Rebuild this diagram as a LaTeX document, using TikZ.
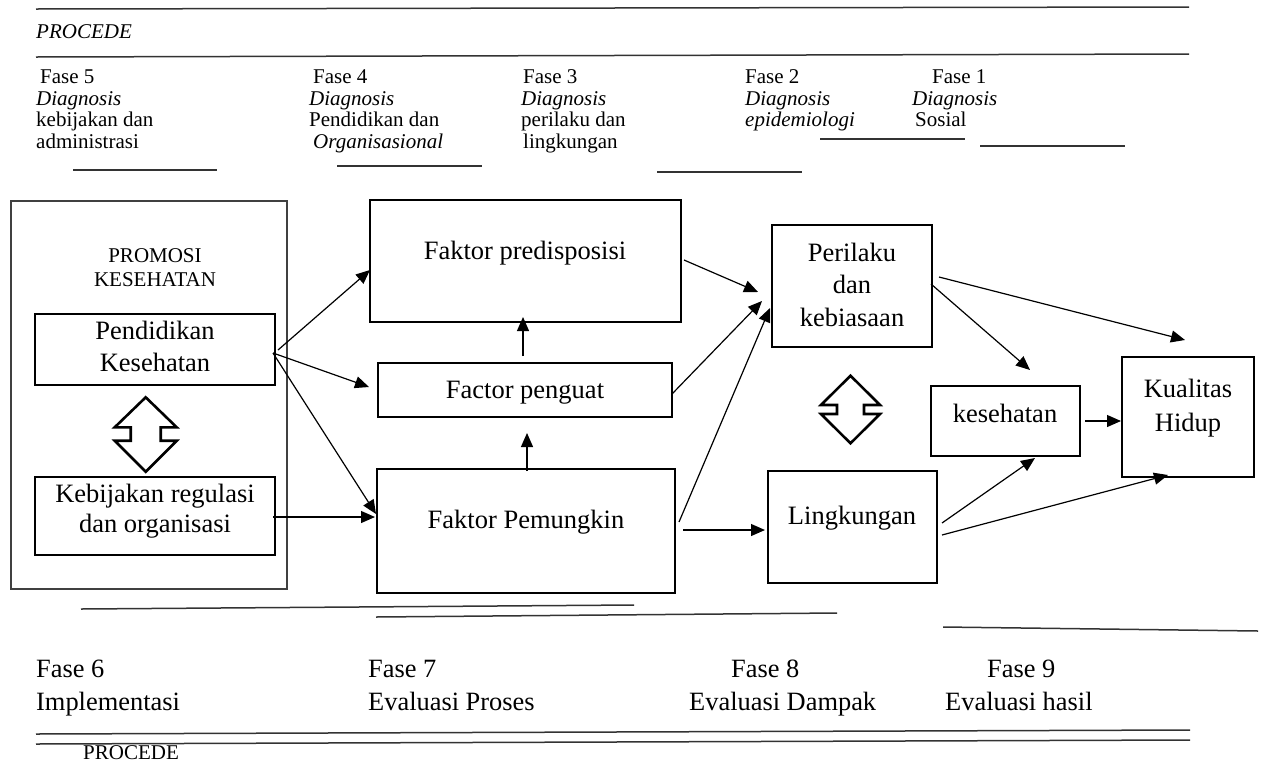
\documentclass[tikz,border=0pt]{standalone}
\usepackage{fontspec}
\setmainfont{Liberation Serif}
\usetikzlibrary{arrows.meta,calc}
\begin{document}
\begin{tikzpicture}[x=1pt,y=-1pt,
  sm/.style={font=\fontsize{21}{24}\selectfont, inner sep=0pt, anchor=base west},
  smc/.style={font=\fontsize{21}{24}\selectfont, inner sep=0pt, anchor=base},
  bigl/.style={font=\fontsize{26.4}{32}\selectfont, inner sep=0pt, anchor=base west},
  big/.style={font=\fontsize{26.5}{32}\selectfont, inner sep=0pt, anchor=base},
  box/.style={draw, line width=2.8pt, outer sep=0pt, inner sep=0pt},
  outerbox/.style={draw=black!75, line width=1.5pt, outer sep=0pt, inner sep=0pt},
  arr/.style={-{Triangle[length=14pt,width=12pt]}, line width=1.2pt},
  rule/.style={line width=1.5pt, draw=black!80},
  dbl/.style={line width=2.6pt, line join=miter}
]
\useasboundingbox (0,0) rectangle (1277,764);

% ---- top rules and header ----
\draw[rule] (36,9) -- (1189,7);
\node[sm, font=\fontsize{21}{24}\selectfont\itshape] (proc1) at (36,38) {PROCEDE};
\draw[rule] (36,57) -- (1189,54);

% Fase 5
\node[sm] (f5a) at (40,83) {Fase 5};
\node[sm, font=\fontsize{21}{24}\selectfont\itshape] (f5b) at (36,105) {Diagnosis};
\node[sm] (f5c) at (36,126) {kebijakan dan};
\node[sm] (f5d) at (36,148) {administrasi};
% Fase 4
\node[sm] (f4a) at (313,83) {Fase 4};
\node[sm, font=\fontsize{21}{24}\selectfont\itshape] (f4b) at (309,105) {Diagnosis};
\node[sm] (f4c) at (309,126) {Pendidikan dan};
\node[sm, font=\fontsize{21}{24}\selectfont\itshape] (f4d) at (313,148) {Organisasional};
% Fase 3
\node[sm] (f3a) at (523,83) {Fase 3};
\node[sm, font=\fontsize{21}{24}\selectfont\itshape] (f3b) at (521,105) {Diagnosis};
\node[sm] (f3c) at (521,126) {perilaku dan};
\node[sm] (f3d) at (523,148) {lingkungan};
% Fase 2
\node[sm] (f2a) at (745,83) {Fase 2};
\node[sm, font=\fontsize{21}{24}\selectfont\itshape] (f2b) at (745,105) {Diagnosis};
\node[sm, font=\fontsize{21}{24}\selectfont\itshape] (f2c) at (745,126) {epidemiologi};
% Fase 1
\node[sm] (f1a) at (932,83) {Fase 1};
\node[sm, font=\fontsize{21}{24}\selectfont\itshape] (f1b) at (912,105) {Diagnosis};
\node[sm] (f1c) at (915,126) {Sosial};

% short underlines
\draw[rule] (73,170) -- (217,170);
\draw[rule] (337,166) -- (482,166);
\draw[rule] (657,172) -- (802,172);
\draw[rule] (820,139) -- (965,139);
\draw[rule] (980,146) -- (1125,146);

% ---- boxes ----
\node[outerbox, minimum width=276pt, minimum height=388pt] (promo) at (149,395) {};
\node[smc] (promt1) at (155,262) {PROMOSI};
\node[smc] (promt2) at (155,286) {KESEHATAN};

\node[box, minimum width=240pt, minimum height=71pt] (pend) at (155,349.5) {};
\node[big] at (155,339) {Pendidikan};
\node[big] at (155,371) {Kesehatan};

\node[box, minimum width=240pt, minimum height=78pt] (kebi) at (155,516) {};
\node[big] at (155,502) {Kebijakan regulasi};
\node[big] at (155,532) {dan organisasi};

\node[box, minimum width=311pt, minimum height=122pt] (pred) at (525.5,261) {};
\node[big] at (525,259) {Faktor predisposisi};

\node[box, minimum width=294pt, minimum height=54pt] (peng) at (525,390) {};
\node[big] at (525,398) {Factor penguat};

\node[box, minimum width=298pt, minimum height=124pt] (pemu) at (526,531) {};
\node[big] at (526,528) {Faktor Pemungkin};

\node[box, minimum width=160pt, minimum height=122pt] (peri) at (852,286) {};
\node[big] at (852,261) {Perilaku};
\node[big] at (852,293) {dan};
\node[big] at (852,326) {kebiasaan};

\node[box, minimum width=169pt, minimum height=112pt] (ling) at (852.5,527) {};
\node[big] at (852,524) {Lingkungan};

\node[box, minimum width=149pt, minimum height=70pt] (kese) at (1005.5,421) {};
\node[big] at (1005,422) {kesehatan};

\node[box, minimum width=132pt, minimum height=120pt] (kual) at (1188,417) {};
\node[big] at (1188,397) {Kualitas};
\node[big] at (1188,431) {Hidup};

% ---- double arrows ----
\draw[dbl] (145.7,397.3) -- (176.7,427.3) -- (160.7,427.3) -- (160.7,440.7) -- (176.7,440.7)
  -- (145.7,471.7) -- (114.7,440.7) -- (130.7,440.7) -- (130.7,427.3) -- (114.7,427.3) -- cycle;
\draw[dbl] (850.5,375.7) -- (880,405) -- (864,405) -- (864,414) -- (880,414)
  -- (850.5,443.3) -- (821,414) -- (837,414) -- (837,405) -- (821,405) -- cycle;

% ---- connectors ----
\draw[arr] ($(pend.east)+(3,0.5)$) -- ($(pred.west)+(0,9)$);
\draw[arr] ($(pend.east)+(-2,3.5)$) -- ($(peng.west)+(-9,-3)$);
\draw[arr] ($(pend.east)+(-2,3.5)$) -- ($(pemu.west)+(-1,-17)$);
\draw[arr] ($(kebi.east)+(-2,1)$) -- ($(pemu.west)+(-2,-14)$);
\draw[arr] ($(peng.north)+(-2,-7)$) -- ($(pred.south)+(-2.5,-5)$);
\draw[arr] ($(pemu.north)+(1,2)$) -- ($(peng.south)+(2,16)$);
\draw[arr] ($(pred.east)+(3,-1)$) -- ($(peri.west)+(-14,6)$);
\draw[arr] ($(peng.east)+(0,4)$) -- ($(peri.west)+(-10,15)$);
\draw[arr] ($(pemu.east)+(4,-9)$) -- ($(peri.west)+(-2,22)$);
\draw[arr] ($(pemu.east)+(8,-1)$) -- ($(ling.west)+(-3,3)$);
\draw[arr] ($(peri.east)+(-1,-2)$) -- ($(kese.north)+(24.5,-16)$);
\draw[arr] ($(peri.east)+(7,-9)$) -- ($(kual.north)+(-3,-17)$);
\draw[arr] ($(kese.east)+(5,0)$) -- ($(kual.west)+(-1,4)$);
\draw[arr] ($(ling.east)+(5,-4)$) -- ($(kese.south)+(29.5,2)$);
\draw[arr] ($(ling.east)+(5,8)$) -- ($(kual.south)+(-20,-2)$);

% ---- bottom rules ----
\draw[rule] (81,609) -- (634,605);
\draw[rule] (376,617) -- (837,613);
\draw[rule] (943,627) -- (1258,631);

% ---- bottom text ----
\node[bigl] (f6a) at (36,677) {Fase 6};
\node[bigl] (f6b) at (36,710) {Implementasi};
\node[bigl] (f7a) at (368,677) {Fase 7};
\node[bigl] (f7b) at (368,710) {Evaluasi Proses};
\node[bigl] (f8a) at (731,677) {Fase 8};
\node[bigl] (f8b) at (689,710) {Evaluasi Dampak};
\node[bigl] (f9a) at (987,677) {Fase 9};
\node[bigl] (f9b) at (945,710) {Evaluasi hasil};

\draw[rule] (36,734) -- (1190,730);
\draw[rule] (36,744) -- (1190,740);
\node[sm] (proc2) at (83,759) {PROCEDE};
\end{tikzpicture}
\end{document}
